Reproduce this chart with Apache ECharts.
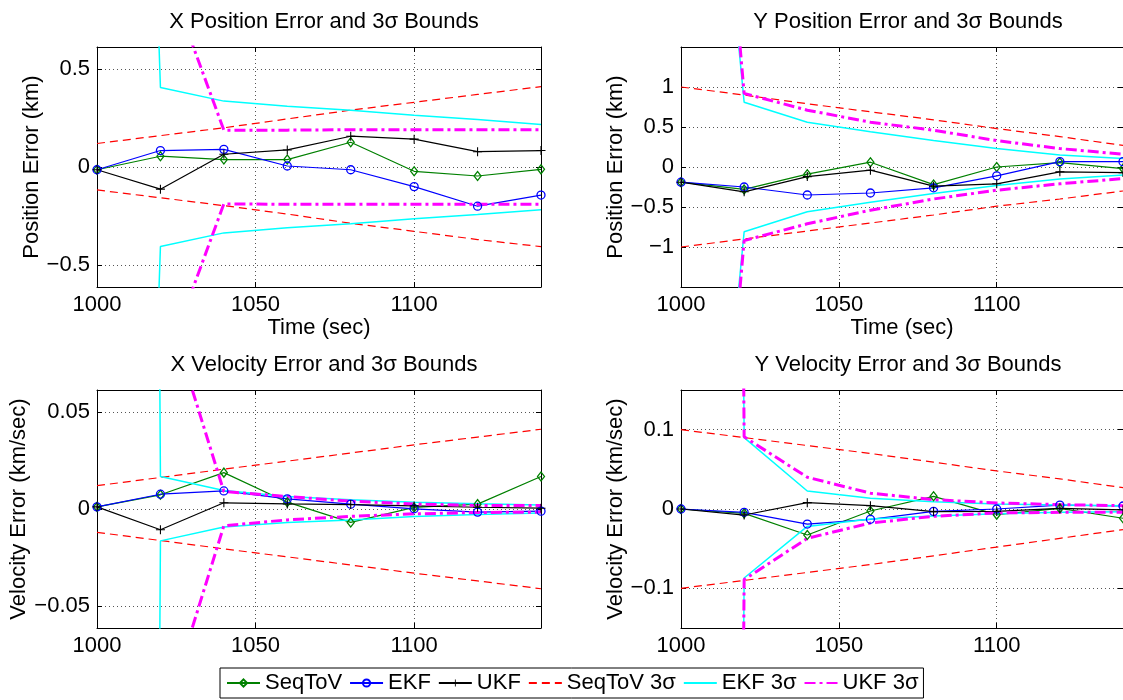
<!DOCTYPE html>
<html><head><meta charset="utf-8">
<script src="https://cdn.jsdelivr.net/npm/echarts@6/dist/echarts.min.js"></script>
<style>html,body{margin:0;padding:0;background:#fff;overflow:hidden}#c{width:1123px;height:700px}</style>
</head><body><div id="c"></div><script>
// ---------- data ----------
const time = [1000, 1020, 1040, 1060, 1080, 1100, 1120, 1140];
const seriesNames = ['SeqToV', 'EKF', 'UKF', 'SeqToV 3σ', 'EKF 3σ', 'UKF 3σ'];
const panelTitles = ['X Position Error and 3σ Bounds', 'Y Position Error and 3σ Bounds',
                     'X Velocity Error and 3σ Bounds', 'Y Velocity Error and 3σ Bounds'];
const yAxisNames = ['Position Error (km)', 'Position Error (km)',
                    'Velocity Error (km/sec)', 'Velocity Error (km/sec)'];
const xAxisName = 'Time (sec)';

// X position (km)
const xPosSeqToV   = [-0.014, 0.055, 0.038, 0.038, 0.126, -0.022, -0.046, -0.012];
const xPosEKF      = [-0.014, 0.084, 0.090, 0.005, -0.014, -0.100, -0.200, -0.143];
const xPosUKF      = [-0.014, -0.113, 0.065, 0.087, 0.157, 0.142, 0.078, 0.084];
const xPosSeqTov3sUp = [0.12, 0.16, 0.20, 0.245, 0.29, 0.33, 0.37, 0.41];
const xPosSeqTov3sLo = [-0.117, -0.157, -0.197, -0.24, -0.287, -0.328, -0.37, -0.406];
const xPosEKF3sUp  = [10, 0.406, 0.336, 0.31, 0.29, 0.264, 0.242, 0.217];
const xPosEKF3sLo  = [-10, -0.406, -0.336, -0.31, -0.29, -0.264, -0.242, -0.218];
const xPosUKF3sUp  = [5, 1.07, 0.188, 0.188, 0.19, 0.19, 0.19, 0.19];
const xPosUKF3sLo  = [-5, -1.07, -0.188, -0.19, -0.19, -0.19, -0.19, -0.19];

// Y position (km)
const yPosSeqToV   = [-0.19, -0.28, -0.09, 0.06, -0.22, 0.0, 0.055, -0.02];
const yPosEKF      = [-0.19, -0.25, -0.35, -0.325, -0.26, -0.11, 0.067, 0.067];
const yPosUKF      = [-0.19, -0.31, -0.12, -0.04, -0.24, -0.21, -0.06, -0.07];
const yPosSeqTov3sUp = [1.0, 0.9, 0.79, 0.69, 0.59, 0.48, 0.38, 0.27];
const yPosSeqTov3sLo = [-1.0, -0.9, -0.8, -0.7, -0.6, -0.49, -0.4, -0.3];
const yPosEKF3sUp  = [9, 0.81, 0.56, 0.44, 0.33, 0.23, 0.15, 0.105];
const yPosEKF3sLo  = [-9, -0.81, -0.56, -0.44, -0.33, -0.23, -0.15, -0.10];
const yPosUKF3sUp  = [10, 0.92, 0.71, 0.56, 0.46, 0.33, 0.23, 0.16];
const yPosUKF3sLo  = [-10, -0.92, -0.71, -0.54, -0.40, -0.29, -0.21, -0.145];

// X velocity (km/sec)
const xVelSeqToV   = [0.0011, 0.0073, 0.0187, 0.0035, -0.0069, 0.0008, 0.0025, 0.0167];
const xVelEKF      = [0.0011, 0.0076, 0.0093, 0.0052, 0.0025, 0.0001, -0.0016, -0.0011];
const xVelUKF      = [0.0011, -0.0107, 0.0032, 0.0026, 0.0023, 0.0016, 0.0009, 0.0004];
const xVelSeqTov3sUp = [0.012, 0.0162, 0.0205, 0.0246, 0.0288, 0.033, 0.037, 0.041];
const xVelSeqTov3sLo = [-0.012, -0.0162, -0.0205, -0.0246, -0.0288, -0.033, -0.037, -0.041];
const xVelEKF3sUp  = [5, 0.0167, 0.0095, 0.0064, 0.0047, 0.0035, 0.0027, 0.0021];
const xVelEKF3sLo  = [-5, -0.0164, -0.0093, -0.0069, -0.0056, -0.0038, -0.0028, -0.0021];
const xVelUKF3sUp  = [3, 0.114, 0.009, 0.0064, 0.004, 0.0026, 0.0018, 0.0018];
const xVelUKF3sLo  = [-3, -0.114, -0.0086, -0.0056, -0.0038, -0.0025, -0.0018, -0.0016];

// Y velocity (km/sec)
const yVelSeqToV   = [0, -0.0055, -0.0328, -0.0025, 0.016, -0.0071, 0.0008, -0.0117];
const yVelEKF      = [0, -0.0042, -0.019, -0.013, -0.003, 0, 0.005, 0.0038];
const yVelUKF      = [0, -0.0076, 0.008, 0.0042, -0.0034, -0.003, 0.0008, -0.001];
const yVelSeqTov3sUp = [0.1, 0.09, 0.08, 0.07, 0.059, 0.048, 0.038, 0.027];
const yVelSeqTov3sLo = [-0.1, -0.09, -0.08, -0.07, -0.059, -0.048, -0.037, -0.026];
const yVelEKF3sUp  = [10, 0.09, 0.0227, 0.0134, 0.0092, 0.0063, 0.005, 0.004];
const yVelEKF3sLo  = [-10, -0.087, -0.022, -0.0126, -0.0088, -0.0059, -0.0042, -0.0035];
const yVelUKF3sUp  = [10, 0.091, 0.04, 0.02, 0.0118, 0.0076, 0.0055, 0.0042];
const yVelUKF3sLo  = [-10, -0.089, -0.037, -0.0177, -0.0092, -0.005, -0.0042, -0.004];

// ---------- layout / styles ----------
const FONT = '"Liberation Sans", Arial, Helvetica, sans-serif';
const panelData = [
  [xPosSeqToV, xPosEKF, xPosUKF, [xPosSeqTov3sUp, xPosSeqTov3sLo], [xPosEKF3sUp, xPosEKF3sLo], [xPosUKF3sUp, xPosUKF3sLo]],
  [yPosSeqToV, yPosEKF, yPosUKF, [yPosSeqTov3sUp, yPosSeqTov3sLo], [yPosEKF3sUp, yPosEKF3sLo], [yPosUKF3sUp, yPosUKF3sLo]],
  [xVelSeqToV, xVelEKF, xVelUKF, [xVelSeqTov3sUp, xVelSeqTov3sLo], [xVelEKF3sUp, xVelEKF3sLo], [xVelUKF3sUp, xVelUKF3sLo]],
  [yVelSeqToV, yVelEKF, yVelUKF, [yVelSeqTov3sUp, yVelSeqTov3sLo], [yVelEKF3sUp, yVelEKF3sLo], [yVelUKF3sUp, yVelUKF3sLo]]
];
const grids = [
  {left: 97, top: 47, width: 444, height: 240},
  {left: 681, top: 47, width: 444, height: 240},
  {left: 97, top: 390, width: 444, height: 238},
  {left: 681, top: 390, width: 444, height: 238}
];
const yRanges = [
  {min: -0.612, max: 0.612, splitNumber: 2},
  {min: -1.5, max: 1.5, interval: 0.5},
  {min: -0.0612, max: 0.0612, splitNumber: 2},
  {min: -0.15, max: 0.15, splitNumber: 3}
];
const nameGaps = [50, 48, 60, 48];
const styles = [
  {color: '#008000', width: 1.2, type: 'solid', symbol: 'diamond', symbolSize: [7, 9], hollow: true},
  {color: '#0000ff', width: 1.2, type: 'solid', symbol: 'circle', symbolSize: 8, hollow: true},
  {color: '#000000', width: 1.2, type: 'solid', symbol: 'path://M4.4,0H5.6V4.4H10V5.6H5.6V10H4.4V5.6H0V4.4H4.4Z', symbolSize: 9, hollow: false},
  {color: '#ff0000', width: 1.2, type: [8, 5], symbol: 'none'},
  {color: '#00ffff', width: 1.5, type: 'solid', symbol: 'none'},
  {color: '#ff00ff', width: 3, type: [11, 4, 3, 4], symbol: 'none'}
];

const minusFmt = v => String(v).replace('-', '\u2212');
const plainFmt = v => String(v);
const xAxes = [], yAxes = [], series = [], titles = [];
grids.forEach((g, i) => {
  const xBase = {type: 'value', gridIndex: i, min: 1000, max: 1140, interval: 50};
  xAxes.push(Object.assign({}, xBase, {
    position: 'bottom',
    name: i < 2 ? xAxisName : '', nameLocation: 'middle', nameGap: 25,
    nameTextStyle: {fontSize: 22, color: '#000', fontFamily: FONT},
    axisLine: {show: true, onZero: false, lineStyle: {color: '#000', width: 1}},
    axisTick: {show: true, inside: true, length: 5, lineStyle: {color: '#000'}},
    axisLabel: {fontSize: 22, color: '#000', fontFamily: FONT, margin: 7, showMaxLabel: false, formatter: plainFmt},
    splitLine: {show: true, lineStyle: {color: '#555', type: [1, 3], width: 1}}
  }));
  xAxes.push(Object.assign({}, xBase, {
    position: 'top',
    axisLine: {show: true, onZero: false, lineStyle: {color: '#000', width: 1}},
    axisTick: {show: true, inside: true, length: 5, lineStyle: {color: '#000'}},
    axisLabel: {show: false}, splitLine: {show: false}
  }));
  const yBase = Object.assign({type: 'value', gridIndex: i}, yRanges[i]);
  yAxes.push(Object.assign({}, yBase, {
    position: 'left',
    name: yAxisNames[i], nameLocation: 'middle', nameGap: nameGaps[i],
    nameTextStyle: {fontSize: 22, color: '#000', fontFamily: FONT},
    axisLine: {show: true, onZero: false, lineStyle: {color: '#000', width: 1}},
    axisTick: {show: true, inside: true, length: 5, lineStyle: {color: '#000'}},
    axisLabel: {fontSize: 22, color: '#000', fontFamily: FONT, margin: 7,
                showMinLabel: false, showMaxLabel: false, formatter: minusFmt},
    splitLine: {show: true, lineStyle: {color: '#555', type: [1, 3], width: 1}}
  }));
  yAxes.push(Object.assign({}, yBase, {
    position: 'right',
    axisLine: {show: true, onZero: false, lineStyle: {color: '#000', width: 1}},
    axisTick: {show: true, inside: true, length: 5, lineStyle: {color: '#000'}},
    axisLabel: {show: false}, splitLine: {show: false}
  }));
  titles.push({
    text: panelTitles[i], left: g.left + g.width / 2, top: g.top - 41, textAlign: 'center',
    textStyle: {fontSize: 22, fontWeight: 'normal', color: '#000', fontFamily: FONT}
  });
  panelData[i].forEach((entry, s) => {
    const st = styles[s];
    const lists = Array.isArray(entry[0]) ? entry : [entry];
    lists.forEach(vals => {
      let itemStyle;
      if (st.symbol === 'none') itemStyle = {color: 'rgba(0,0,0,0)', borderColor: 'rgba(0,0,0,0)', borderWidth: 0};
      else if (st.hollow) itemStyle = {color: 'rgba(255,255,255,0)', borderColor: st.color, borderWidth: 1.3};
      else itemStyle = {color: st.color, borderWidth: 0};
      series.push({
        type: 'line', name: seriesNames[s],
        xAxisIndex: 2 * i, yAxisIndex: 2 * i,
        data: time.map((t, k) => [t, vals[k]]),
        symbol: st.symbol, symbolSize: st.symbolSize || 0,
        showSymbol: st.symbol !== 'none',
        clip: true, smooth: false,
        lineStyle: {color: st.color, width: st.width, type: st.type},
        itemStyle: itemStyle,
        emphasis: {disabled: true}
      });
    });
  });
});

const chart = echarts.init(document.getElementById('c'), null, {renderer: 'canvas'});
chart.setOption({
  animation: false,
  backgroundColor: '#fff',
  title: titles,
  grid: grids,
  xAxis: xAxes,
  yAxis: yAxes,
  legend: {
    data: seriesNames, left: 220, top: 668, orient: 'horizontal',
    itemWidth: 33, itemHeight: 9, itemGap: 7, padding: [4, 5, 4, 6],
    borderColor: '#000', borderWidth: 1, backgroundColor: '#fff',
    textStyle: {fontSize: 22, color: '#000', fontFamily: FONT}
  },
  series: series
});
</script></body></html>
